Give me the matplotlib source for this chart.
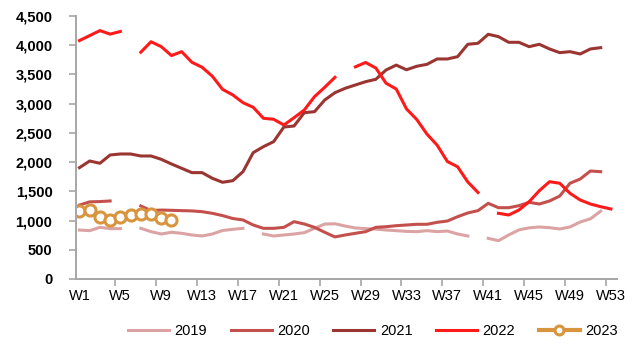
import numpy as np
import matplotlib.pyplot as plt

nan = np.nan

weeks = np.arange(1, 54)
week_labels = [f"W{w}" for w in range(1, 54, 4)]

v2019 = [838, 827, 884, 862, 862, nan, 867, 810, 770, 799,
         782, 753, 736, 770, 830, 850, 867, nan, 770, 736,
         753, 770, 793, 867, 940, 945, 906, 873, 862, 855,
         838, 827, 815, 810, 827, 810, 821, 770, 736, nan,
         696, 655, 753, 840, 875, 890, 878, 856, 890, 975,
         1030, 1160, nan]
v2020 = [1265, 1320, 1325, 1335, nan, nan, 1250, 1170, 1180, 1175,
         1170, 1165, 1152, 1124, 1085, 1035, 1010, 924, 867, 867,
         884, 981, 941, 884, 799, 720, 753, 782, 810, 884,
         895, 912, 924, 936, 936, 970, 992, 1066, 1130, 1170,
         1295, 1220, 1220, 1254, 1312, 1283, 1335, 1420, 1638, 1711,
         1848, 1836, nan]
v2021 = [1905, 2019, 1980, 2122, 2139, 2139, 2105, 2105, 2048, 1968,
         1894, 1820, 1820, 1723, 1655, 1682, 1836, 2162, 2264, 2350,
         2600, 2618, 2846, 2863, 3063, 3188, 3263, 3320, 3376, 3417,
         3576, 3660, 3580, 3640, 3673, 3765, 3765, 3804, 4016, 4033,
         4187, 4147, 4050, 4050, 3975, 4016, 3936, 3873, 3890, 3850,
         3936, 3958, nan]
v2022 = [4080, 4165, 4250, 4190, 4235, nan, 3880, 4060, 3976, 3823,
         3890, 3708, 3623, 3470, 3245, 3150, 3017, 2938, 2750, 2733,
         2635, 2760, 2892, 3120, 3280, 3451, nan, 3630, 3705, 3610,
         3350, 3250, 2910, 2730, 2480, 2290, 2010, 1920, 1660, 1480,
         nan, 1124, 1095, 1180, 1323, 1511, 1665, 1638, 1466, 1352,
         1283, 1237, 1198]
v2023 = [1163, 1175, 1066, 1010, 1066, 1095, 1118, 1118, 1052, 1005]

plt.rcParams['font.family'] = ['Liberation Sans', 'DejaVu Sans']

fig = plt.figure(figsize=(6.41, 3.45), dpi=100)
ax = fig.add_axes([76 / 641, 66 / 345, 541 / 641, 263 / 345])

lw = 2.2
ax.plot(weeks, v2019, color='#DBA3A3', lw=lw, label='2019')
ax.plot(weeks, v2020, color='#C4504D', lw=lw, label='2020')
ax.plot(weeks, v2021, color='#9B3532', lw=lw, label='2021')
ax.plot(weeks, v2022, color='#FF1A1A', lw=lw, label='2022')
ax.plot(weeks[:len(v2023)], v2023, color='#D8953E', lw=lw + 0.8,
        marker='o', ms=8, mfc='white', mec='#D8953E', mew=2.2, label='2023')

ax.set_xlim(0.66, 53.6)
ax.set_ylim(0, 4500)
ax.set_yticks(np.arange(0, 4501, 500))
ax.set_yticklabels([f"{v:,}" for v in range(0, 4501, 500)],
                   fontweight='bold', fontsize=10.5)

# tick marks sit between categories, labels on every 4th week
ax.set_xticks(np.arange(4.5, 53, 4))
ax.set_xticklabels([])
ax.set_xticks(np.arange(1, 54, 4), minor=True)
ax.set_xticklabels(week_labels, minor=True, fontsize=10.5)
ax.tick_params(axis='x', which='minor', length=0, pad=7)
ax.tick_params(axis='x', which='major', length=5, width=1.2, color='#A6A6A6')
ax.tick_params(axis='y', length=5, width=1.2, color='#A6A6A6', pad=12)

for side in ['top', 'right']:
    ax.spines[side].set_visible(False)
for side in ['left', 'bottom']:
    ax.spines[side].set_color('#A6A6A6')
    ax.spines[side].set_linewidth(1.4)

fig.legend(loc='center', bbox_to_anchor=(373 / 641, 14 / 345), ncol=5,
           frameon=False, fontsize=10.5, handlelength=2.8,
           handletextpad=0.4, columnspacing=1.6, numpoints=1,
           markerscale=0.8)

fig.savefig('out.png', dpi=100)
